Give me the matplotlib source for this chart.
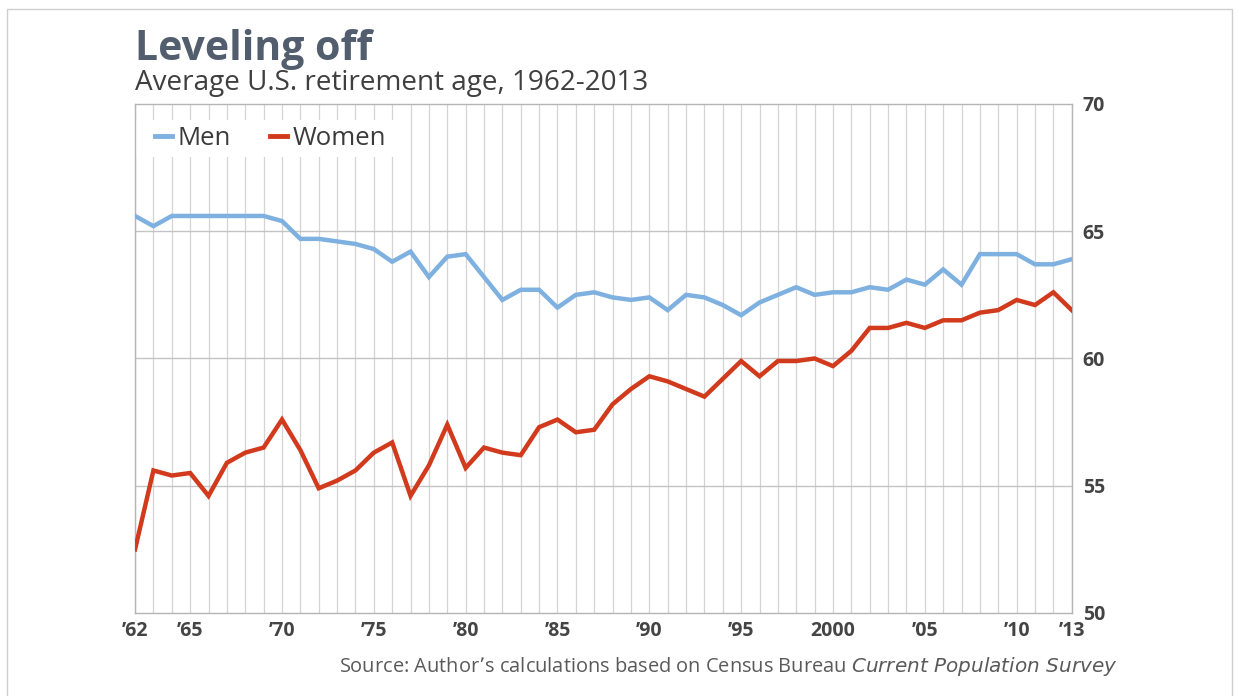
import matplotlib.pyplot as plt
from matplotlib.patches import Rectangle

# Average U.S. retirement age, 1962-2013
years = list(range(1962, 2014))
men = [65.6, 65.2, 65.6, 65.6, 65.6, 65.6, 65.6, 65.6,
       65.4, 64.7, 64.7, 64.6, 64.5, 64.3, 63.8, 64.2, 63.2, 64.0,
       64.1, 63.2, 62.3, 62.7, 62.7, 62.0, 62.5, 62.6, 62.4, 62.3,
       62.4, 61.9, 62.5, 62.4, 62.1, 61.7, 62.2, 62.5, 62.8, 62.5,
       62.6, 62.6, 62.8, 62.7, 63.1, 62.9, 63.5, 62.9, 64.1, 64.1,
       64.1, 63.7, 63.7, 63.9]
women = [52.5, 55.6, 55.4, 55.5, 54.6, 55.9, 56.3, 56.5,
         57.6, 56.4, 54.9, 55.2, 55.6, 56.3, 56.7, 54.6, 55.8, 57.4,
         55.7, 56.5, 56.3, 56.2, 57.3, 57.6, 57.1, 57.2, 58.2, 58.8,
         59.3, 59.1, 58.8, 58.5, 59.2, 59.9, 59.3, 59.9, 59.9, 60.0,
         59.7, 60.3, 61.2, 61.2, 61.4, 61.2, 61.5, 61.5, 61.8, 61.9,
         62.3, 62.1, 62.6, 61.9]

tick_years = [1962, 1965, 1970, 1975, 1980, 1985, 1990, 1995, 2000, 2005, 2010, 2013]
tick_labels = ["\u201962", "\u201965", "\u201970", "\u201975", "\u201980", "\u201985",
               "\u201990", "\u201995", "2000", "\u201905", "\u201910", "\u201913"]
y_ticks = [50, 55, 60, 65, 70]

plt.rcParams['font.family'] = ['Open Sans', 'DejaVu Sans']

fig = plt.figure(figsize=(12.39, 6.96), dpi=100)
ax = fig.add_axes([0.109, 0.1193, 0.756, 0.7313])

# vertical grid line for every year
for yr in years:
    ax.axvline(yr, color='#d4d4d4', lw=0.9, zorder=0)
for v in [55, 60, 65]:
    ax.axhline(v, color='#c4c4c4', lw=1.0, zorder=0)

ax.plot(years, men, color='#7eb1e0', lw=3.2, label='Men', zorder=3,
        solid_joinstyle='miter')
ax.plot(years, women, color='#d13a1c', lw=3.2, label='Women', zorder=3,
        solid_joinstyle='miter')

ax.set_xlim(1962, 2013)
ax.set_ylim(50, 70)
for s in ax.spines.values():
    s.set_color('#b5b5b5')
    s.set_linewidth(1.0)

ax.yaxis.tick_right()
ax.set_yticks(y_ticks)
ax.set_xticks(tick_years)
ax.set_xticklabels(tick_labels)
ax.tick_params(length=0, labelsize=14, labelcolor='#444444', pad=6)
ax.tick_params(axis='y', pad=8)
for lab in ax.get_xticklabels() + ax.get_yticklabels():
    lab.set_fontweight('bold')

# white patch behind the legend, covering the grid lines
ax.add_patch(Rectangle((0.0, 0.896), 0.277, 0.073, transform=ax.transAxes,
                       facecolor='white', edgecolor='none', zorder=1))
leg = ax.legend(loc='center left', bbox_to_anchor=(0.0213, 0.933), ncol=2, frameon=False,
                fontsize=18.5, handlelength=0.66, handletextpad=0.23,
                columnspacing=1.5, borderpad=0.0, borderaxespad=0.0)
for t in leg.get_texts():
    t.set_color('#3a3a3a')
for h in leg.get_lines():
    h.set_linewidth(3.5)

fig.text(135 / 1239, 1 - 60 / 696, 'Leveling off', fontsize=29.5, fontweight='bold',
         color='#525d6d', ha='left', va='baseline')
fig.text(135 / 1239, 1 - 90 / 696, 'Average U.S. retirement age, 1962-2013', fontsize=20.1,
         color='#3f3f3f', ha='left', va='baseline')

fig.text(1118 / 1239, 1 - 672 / 696,
         'Source: Author\u2019s calculations based on Census Bureau $\\it{Current\\ Population\\ Survey}$',
         fontsize=14.4, color='#5a5a5a', ha='right', va='baseline')

# thin frame around the graphic
fig.patches.append(Rectangle((7 / 1239, -0.05), 1225 / 1239, 1.05 - 9 / 696,
                             transform=fig.transFigure, fill=False,
                             edgecolor='#cfcfcf', lw=1.0))

fig.savefig('out.png', dpi=100, facecolor='white')
